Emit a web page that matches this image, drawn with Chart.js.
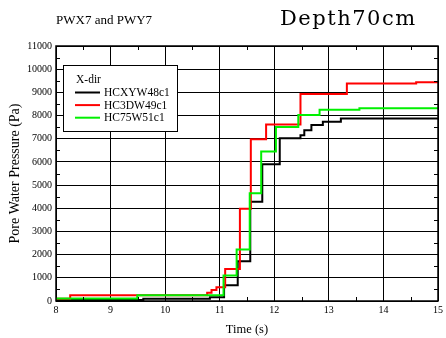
<!DOCTYPE html>
<html>
<head>
<meta charset="utf-8">
<script src="https://cdn.jsdelivr.net/npm/chart.js@4.4.1/dist/chart.umd.min.js"></script>
<style>
  html, body { margin: 0; padding: 0; background: #fff; }
</style>
</head>
<body>
<canvas id="pwChart" width="446" height="338"></canvas>
<script>
// Step times (s) and pore water pressure (Pa)
const blackTimes = [8, 9.6, 10.82, 11.08, 11.33, 11.56, 11.78, 12.1, 12.48, 12.55, 12.68, 12.89, 13.22, 15];
const blackValues = [40, 100, 160, 680, 1720, 4280, 5900, 7020, 7150, 7370, 7590, 7730, 7870, 7870];

const redTimes = [8, 8.26, 10.77, 10.85, 10.94, 11.1, 11.37, 11.57, 11.85, 12.48, 13.33, 14.6, 15];
const redValues = [100, 250, 360, 470, 590, 1380, 3980, 6980, 7610, 8930, 9380, 9440, 9440];

const greenTimes = [8, 9.49, 11.07, 11.31, 11.55, 11.76, 12.03, 12.44, 12.83, 13.56, 15];
const greenValues = [110, 250, 1100, 2220, 4650, 6450, 7510, 8020, 8250, 8320, 8330];

const seriesNames = ['HCXYW48c1', 'HC3DW49c1', 'HC75W51c1'];
const seriesColors = ['#000000', '#ff0000', '#00f000'];

const xTickValues = [8, 9, 10, 11, 12, 13, 14, 15];
const yTickValues = [0, 1000, 2000, 3000, 4000, 5000, 6000, 7000, 8000, 9000, 10000, 11000];

const serif = "'Liberation Serif', 'Times New Roman', serif";

function toPoints(times, values) {
    return times.map((t, i) => ({ x: t, y: values[i] }));
}

// titles, legend box and the small inward ticks
const decorPlugin = {
    id: 'decor',
    beforeDraw(chart) {
        const ctx = chart.ctx;
        ctx.save();
        ctx.fillStyle = '#fff';
        ctx.fillRect(0, 0, chart.width, chart.height);
        ctx.restore();
    },
    afterDraw(chart) {
        const ctx = chart.ctx;
        const area = chart.chartArea;
        const xs = chart.scales.x;
        const ys = chart.scales.y;

        ctx.save();
        ctx.strokeStyle = '#000';
        ctx.lineWidth = 1;
        ctx.beginPath();
        // minor ticks halfway between the labelled ones
        for (let i = 0; i < xTickValues.length - 1; i++) {
            const v = (xTickValues[i] + xTickValues[i + 1]) / 2;
            const px = Math.round(xs.getPixelForValue(v)) + 0.5;
            ctx.moveTo(px, area.bottom); ctx.lineTo(px, area.bottom - 4);
            ctx.moveTo(px, area.top); ctx.lineTo(px, area.top + 4);
        }
        for (let i = 0; i < yTickValues.length - 1; i++) {
            const v = (yTickValues[i] + yTickValues[i + 1]) / 2;
            const py = Math.round(ys.getPixelForValue(v)) + 0.5;
            ctx.moveTo(area.left, py); ctx.lineTo(area.left + 4, py);
            ctx.moveTo(area.right, py); ctx.lineTo(area.right - 4, py);
        }
        ctx.stroke();

        // frame
        ctx.lineWidth = 1.5;
        ctx.strokeRect(area.left, area.top, area.right - area.left, area.bottom - area.top);

        // top texts
        ctx.fillStyle = '#000';
        ctx.textBaseline = 'alphabetic';
        ctx.textAlign = 'left';
        ctx.font = '13px ' + serif;
        ctx.fillText('PWX7 and PWY7', 56, 24);
        ctx.font = "21px 'DejaVu Serif', serif";
        ctx.letterSpacing = '1.5px';
        ctx.fillText('Depth70cm', 280, 25);
        ctx.letterSpacing = '0px';

        // legend
        const bx = 63.5, by = 65.5, bw = 114, bh = 66;
        ctx.fillStyle = '#fff';
        ctx.fillRect(bx, by, bw, bh);
        ctx.lineWidth = 1;
        ctx.strokeStyle = '#000';
        ctx.strokeRect(bx, by, bw, bh);
        ctx.fillStyle = '#000';
        ctx.font = '11.5px ' + serif;
        ctx.textBaseline = 'middle';
        ctx.fillText('X-dir', 76, 80);
        chart.data.datasets.forEach((ds, i) => {
            const ly = 92.5 + i * 12.6;
            ctx.strokeStyle = ds.borderColor;
            ctx.lineWidth = 2;
            ctx.beginPath();
            ctx.moveTo(75, ly);
            ctx.lineTo(100, ly);
            ctx.stroke();
            ctx.fillStyle = '#000';
            ctx.fillText(ds.label, 104, ly + 0.5);
        });
        ctx.restore();
    }
};

const ctx = document.getElementById('pwChart').getContext('2d');

const pwChart = new Chart(ctx, {
    type: 'line',
    data: {
        datasets: [
            { label: seriesNames[0], data: toPoints(blackTimes, blackValues), borderColor: seriesColors[0], order: 3 },
            { label: seriesNames[1], data: toPoints(redTimes, redValues), borderColor: seriesColors[1], order: 2 },
            { label: seriesNames[2], data: toPoints(greenTimes, greenValues), borderColor: seriesColors[2], order: 1 }
        ]
    },
    options: {
        responsive: false,
        animation: false,
        devicePixelRatio: 1,
        layout: {
            padding: { top: 46, right: 7, bottom: 0, left: 0 }
        },
        datasets: {
            line: {
                stepped: true,
                borderWidth: 2,
                pointRadius: 0,
                fill: false,
                borderJoinStyle: 'miter'
            }
        },
        scales: {
            x: {
                type: 'linear',
                min: 8,
                max: 15,
                afterBuildTicks: scale => { scale.ticks = xTickValues.map(v => ({ value: v })); },
                afterFit: scale => { scale.height = 37; },
                grid: { color: '#000', lineWidth: 1, drawTicks: false },
                border: { display: false },
                ticks: {
                    color: '#000',
                    padding: 3,
                    maxRotation: 0,
                    font: { family: serif, size: 10 }
                },
                title: {
                    display: true,
                    text: 'Time (s)',
                    color: '#000',
                    padding: { top: 0, bottom: 1 },
                    font: { family: serif, size: 12.5 }
                }
            },
            y: {
                min: 0,
                max: 11000,
                afterBuildTicks: scale => { scale.ticks = yTickValues.map(v => ({ value: v })); },
                afterFit: scale => { scale.width = 56; },
                grid: { color: '#000', lineWidth: 1, drawTicks: false },
                border: { display: false },
                ticks: {
                    color: '#000',
                    padding: 4,
                    font: { family: serif, size: 10 },
                    callback: v => String(v)
                },
                title: {
                    display: true,
                    text: 'Pore Water Pressure (Pa)',
                    color: '#000',
                    padding: { top: 7, bottom: 0 },
                    font: { family: serif, size: 14 }
                }
            }
        },
        plugins: {
            legend: { display: false },
            tooltip: { enabled: false }
        }
    },
    plugins: [decorPlugin]
});
</script>
</body>
</html>
